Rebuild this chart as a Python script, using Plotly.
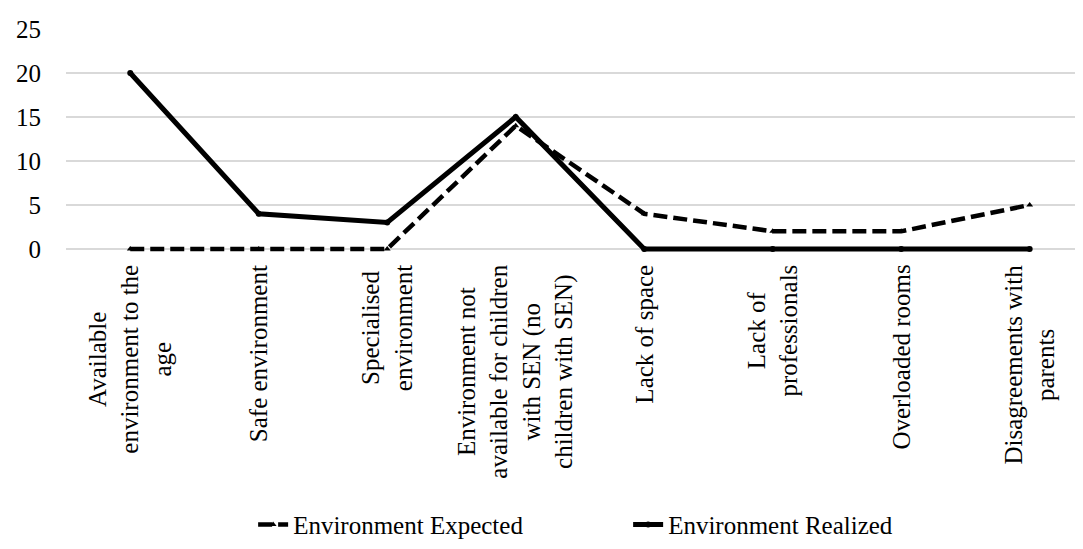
import plotly.graph_objects as go

categories = [
    "Available<br>environment to the<br>age",
    "Safe environment",
    "Specialised<br>environment",
    "Environment not<br>available for children<br>with SEN (no<br>children with SEN)",
    "Lack of space",
    "Lack of<br>professionals",
    "Overloaded rooms",
    "Disagreements with<br>parents",
]
expected = [0, 0, 0, 14, 4, 2, 2, 5]
realized = [20, 4, 3, 15, 0, 0, 0, 0]
y_ticks = [0, 5, 10, 15, 20, 25]

font = "Liberation Serif, Times New Roman, serif"
xs = list(range(len(categories)))
fig = go.Figure()
fig.add_trace(go.Scatter(
    x=xs, y=expected, name="Environment Expected",
    mode="lines+markers",
    line=dict(color="black", width=4.5, dash="14px,6px"),
    marker=dict(symbol="triangle-up", size=6, color="black"),
    cliponaxis=False,
))
fig.add_trace(go.Scatter(
    x=xs, y=realized, name="Environment Realized",
    mode="lines+markers",
    line=dict(color="black", width=5),
    marker=dict(symbol="circle", size=6, color="black"),
    cliponaxis=False,
))
# category labels: rotated, lines centred within each label
for i, lab in zip(xs, categories):
    fig.add_annotation(
        x=i, xref="x", y=0, yref="y", yshift=-14,
        text=lab, textangle=-90, showarrow=False,
        xanchor="center", yanchor="top", align="center",
        font=dict(family=font, size=25, color="black"),
    )
fig.update_layout(
    width=1083, height=549,
    margin=dict(l=54, r=8, t=15, b=305),
    plot_bgcolor="white", paper_bgcolor="white",
    font=dict(family=font, size=25, color="black"),
    showlegend=True,
    legend=dict(orientation="h", x=0.184, xanchor="left", y=-1.223, yanchor="middle",
                font=dict(size=25), entrywidth=330, entrywidthmode="pixels"),
    xaxis=dict(
        tickmode="array", tickvals=xs, showticklabels=False,
        range=[-0.5, 7.415], showgrid=False, showline=False,
        zeroline=False, ticks="",
    ),
    yaxis=dict(
        range=[-0.35, 25], tickvals=y_ticks, showgrid=True, gridcolor="#d9d9d9",
        gridwidth=1.5, zeroline=False, showline=False, ticks="", ticklabelstandoff=24,
        tickfont=dict(size=25),
    ),
)
fig.write_html("out.html")
